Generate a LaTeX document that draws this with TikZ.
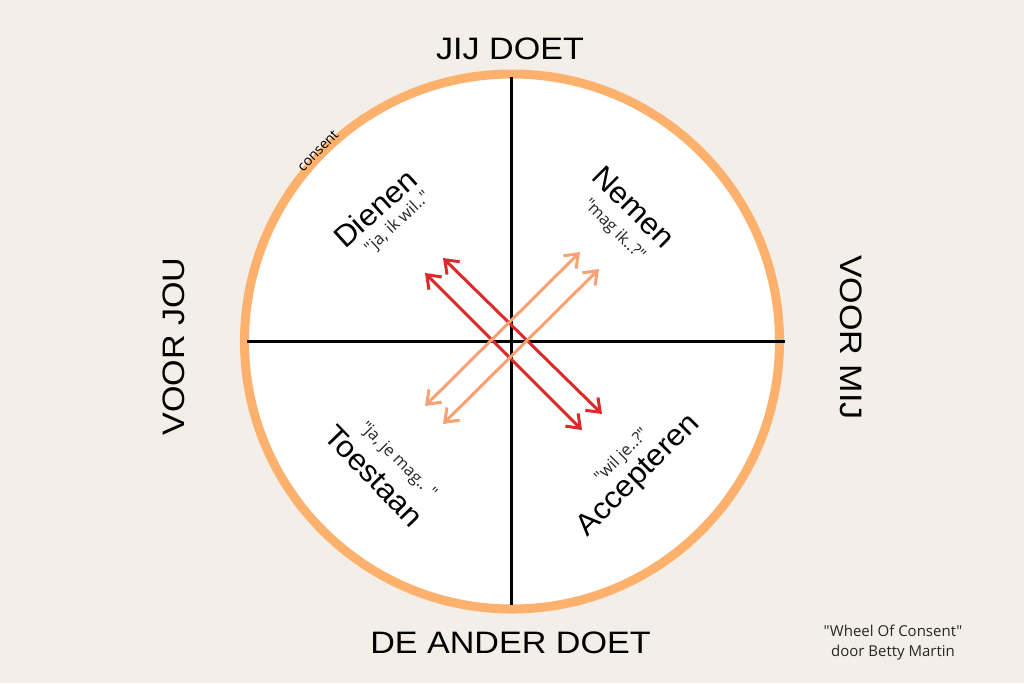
\documentclass[tikz,border=0pt]{standalone}
\usepackage{fontspec}
\usetikzlibrary{arrows.meta}
\newfontfamily\titlefont[FakeStretch=1.1]{Liberation Sans}
\newfontfamily\quadfont[FakeStretch=1.05]{Liberation Sans}
\newfontfamily\smallfont{Open Sans}
\definecolor{bgcol}{RGB}{243,239,232}
\definecolor{ringcol}{RGB}{253,177,108}
\definecolor{redarrow}{RGB}{218,42,42}
\definecolor{orangearrow}{RGB}{248,162,116}
\tikzset{
  title/.style={font=\titlefont\fontsize{31}{31}\selectfont, text=black, inner sep=0pt},
  quad/.style={font=\quadfont\fontsize{30}{30}\selectfont, text=black, inner sep=0pt},
  quote/.style={font=\smallfont\fontsize{16.5}{16.5}\selectfont, text=black!85, inner sep=0pt},
  foot/.style={font=\smallfont\fontsize{15}{20}\selectfont, text=black!85, inner sep=0pt, align=center},
  axis/.style={line width=3pt, black},
  redarr/.style={line width=3pt, redarrow, {Straight Barb[length=12pt,width=18pt,line width=3pt]}-{Straight Barb[length=12pt,width=18pt,line width=3pt]}},
  orarr/.style={line width=3pt, orangearrow, {Straight Barb[length=12pt,width=18pt,line width=3pt]}-{Straight Barb[length=12pt,width=18pt,line width=3pt]}}
}
\begin{document}
\begin{tikzpicture}[x=1pt,y=-1pt]
\fill[bgcol] (0,0) rectangle (1024,683);
\useasboundingbox (0,0) rectangle (1024,683);
\coordinate (c) at (512,341.5);
\fill[white] (c) circle (267.5);
\draw[ringcol, line width=9pt] (c) circle (267.5);
% axes
\coordinate (top) at (511,77);
\coordinate (bot) at (511,605);
\coordinate (lft) at (247,341);
\coordinate (rgt) at (785,341);
\draw[axis] (top) -- (bot);
\draw[axis] (lft) -- (rgt);
% arrows
\coordinate (r1a) at (425,273);
\coordinate (r1b) at (582,430);
\coordinate (r2a) at (443,258);
\coordinate (r2b) at (602,414);
\coordinate (o1a) at (425,406);
\coordinate (o1b) at (580,252);
\coordinate (o2a) at (443,424);
\coordinate (o2b) at (599,269);
\draw[redarr] (r1a) -- (r1b);
\draw[redarr] (r2a) -- (r2b);
\draw[orarr] (o1a) -- (o1b);
\draw[orarr] (o2a) -- (o2b);
% titles
\node[title] (jij) at (510,48.5) {JIJ DOET};
\node[title] (ander) at (510.5,642.5) {DE ANDER DOET};
\node[title, rotate=90] (jou) at (173.5,346.5) {VOOR JOU};
\node[title, rotate=-90] (mij) at (851,337.5) {VOOR MIJ};
% quadrant labels
\node[quad, rotate=42] (dienen) at (375,208) {Dienen};
\node[quote, rotate=43] (dq) at (398,223) {"ja, ik wil.."};
\node[quad, rotate=-45] (nemen) at (634,207) {Nemen};
\node[quote, rotate=-45] (nq) at (614,230) {"mag ik..?"};
\node[quad, rotate=-46] (toestaan) at (374,476) {Toestaan};
\node[quote, rotate=-45] (tq) at (398,461) {"ja, je mag.. "};
\node[quad, rotate=45] (accept) at (639,476) {Accepteren};
\node[quote, rotate=45] (aq) at (622,456) {"wil je..?"};
% consent on ring
\node[font=\smallfont\fontsize{14}{14}\selectfont, text=black, inner sep=0pt, rotate=45.6] (consent) at (318,151) {consent};
% footer
\node[foot] (credit) at (893,643) {"Wheel Of Consent"\\door Betty Martin};
\end{tikzpicture}
\end{document}
